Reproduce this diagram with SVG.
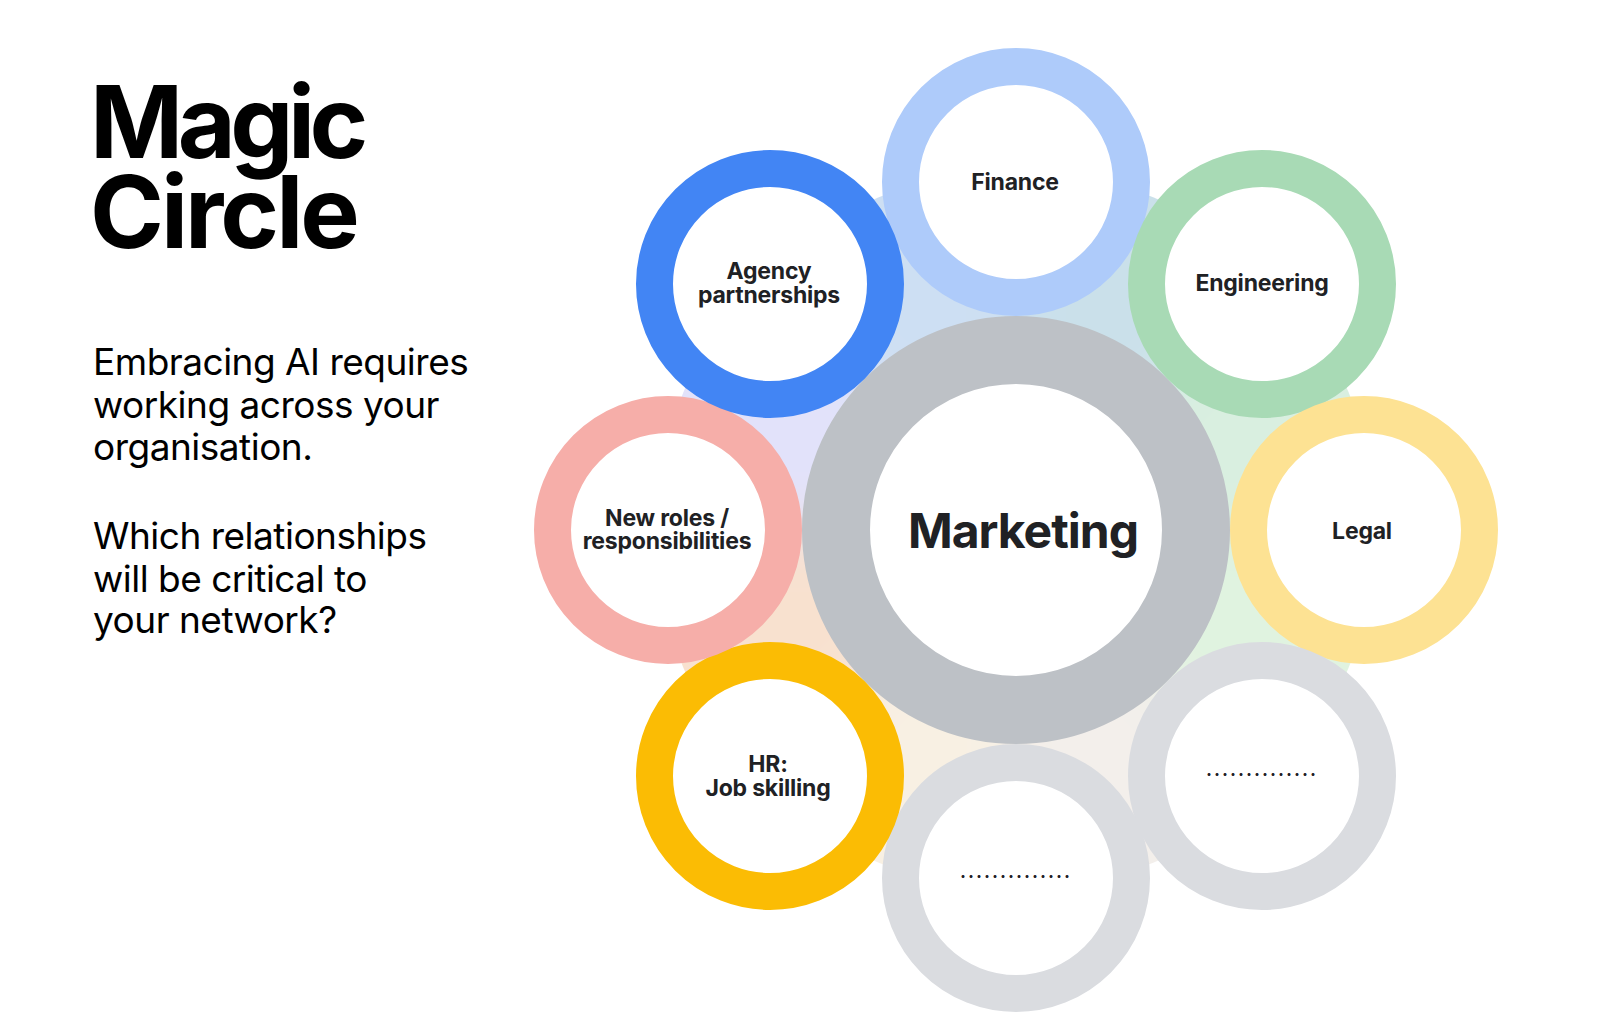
<svg xmlns="http://www.w3.org/2000/svg" width="1600" height="1033" viewBox="0 0 1600 1033">
  <style>
    .title { font-family: Inter, "Noto Sans", "Liberation Sans", sans-serif; font-weight: 700; font-size: 100px; fill: #000; letter-spacing: -3px; }
    .body { font-family: Inter, "Noto Sans", "Liberation Sans", sans-serif; font-weight: 400; font-size: 37px; fill: #000; letter-spacing: -0.5px; }
    .lbl { font-family: Inter, "Noto Sans", "Liberation Sans", sans-serif; font-weight: 700; font-size: 23px; fill: #202124; text-anchor: middle; letter-spacing: -0.2px; }
    .big { font-family: Inter, "Noto Sans", "Liberation Sans", sans-serif; font-weight: 700; font-size: 48px; fill: #202124; text-anchor: middle; letter-spacing: -1px; }
    .dots { font-family: Inter, "Noto Sans", "Liberation Sans", sans-serif; font-weight: 700; font-size: 18px; fill: #202124; text-anchor: middle; letter-spacing: 2px; }
    .sat { fill: #ffffff; stroke-width: 37; }
    .hub { fill: #ffffff; stroke: #bdc1c6; stroke-width: 68; }
  </style>
  <defs>
    <filter id="soft" filterUnits="userSpaceOnUse" x="400" y="-100" width="1300" height="1300">
      <feGaussianBlur stdDeviation="28"/>
    </filter>
    <clipPath id="blobClip">
      <circle cx="1016" cy="530" r="360"/>
    </clipPath>
  </defs>
  <rect width="1600" height="1033" fill="#ffffff"/>

  <g id="title">
    <text class="title" x="90" y="158" style="letter-spacing:-5.5px">Magic</text>
    <text class="title" x="90" y="248">Circle</text>
  </g>
  <g id="intro">
    <text class="body" x="93" y="375">Embracing AI requires</text>
    <text class="body" x="93" y="418">working across your</text>
    <text class="body" x="93" y="460">organisation.</text>
    <text class="body" x="93" y="549">Which relationships</text>
    <text class="body" x="93" y="592">will be critical to</text>
    <text class="body" x="93" y="633">your network?</text>
  </g>

  <g id="background" clip-path="url(#blobClip)">
    <g filter="url(#soft)">
      <polygon points="1016,530 1536,530 1383.7,897.7" fill="#e0f3e0"/>
      <polygon points="1016,530 1383.7,897.7 1016,1050" fill="#f3efeb"/>
      <polygon points="1016,530 1016,1050 648.3,897.7" fill="#f8f0e3"/>
      <polygon points="1016,530 648.3,897.7 496,530" fill="#f8e1cf"/>
      <polygon points="1016,530 496,530 648.3,162.3" fill="#e2e2fa"/>
      <polygon points="1016,530 648.3,162.3 1016,10" fill="#cddff3"/>
      <polygon points="1016,530 1016,10 1383.7,162.3" fill="#cae0ea"/>
      <polygon points="1016,530 1383.7,162.3 1536,530" fill="#d9efe0"/>
    </g>
  </g>

  <g id="connectors"></g>

  <g id="node-marketing">
    <circle class="hub" cx="1016" cy="530" r="180"/>
    <text class="big" x="1023" y="548">Marketing</text>
  </g>
  <g id="node-finance">
    <circle class="sat" cx="1016" cy="182" r="115.5" stroke="#aecbfa"/>
    <text class="lbl" x="1015" y="190">Finance</text>
  </g>
  <g id="node-engineering">
    <circle class="sat" cx="1262" cy="284" r="115.5" stroke="#a8dab5"/>
    <text class="lbl" x="1262" y="291">Engineering</text>
  </g>
  <g id="node-legal">
    <circle class="sat" cx="1364" cy="530" r="115.5" stroke="#fde293"/>
    <text class="lbl" x="1362" y="539">Legal</text>
  </g>
  <g id="node-other-right">
    <circle class="sat" cx="1262" cy="776" r="115.5" stroke="#dadce0"/>
    <text class="dots" x="1262" y="776">..............</text>
  </g>
  <g id="node-other-bottom">
    <circle class="sat" cx="1016" cy="878" r="115.5" stroke="#dadce0"/>
    <text class="dots" x="1016" y="878">..............</text>
  </g>
  <g id="node-hr">
    <circle class="sat" cx="770" cy="776" r="115.5" stroke="#fbbc04"/>
    <text class="lbl" x="768" y="772">HR:</text>
    <text class="lbl" x="768" y="796">Job skilling</text>
  </g>
  <g id="node-new-roles">
    <circle class="sat" cx="668" cy="530" r="115.5" stroke="#f6aea9"/>
    <text class="lbl" x="667" y="526">New roles /</text>
    <text class="lbl" x="667" y="549">responsibilities</text>
  </g>
  <g id="node-agency">
    <circle class="sat" cx="770" cy="284" r="115.5" stroke="#4285f4"/>
    <text class="lbl" x="769" y="279">Agency</text>
    <text class="lbl" x="769" y="303">partnerships</text>
  </g>
</svg>
